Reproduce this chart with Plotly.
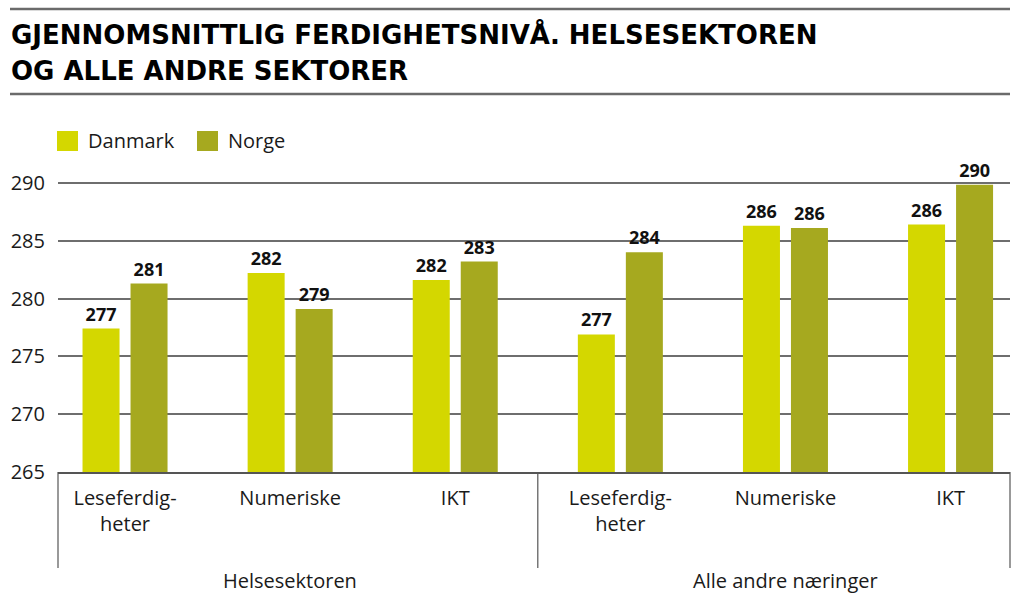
import plotly.graph_objects as go

# ---------------- data ----------------
sectors = ["Helsesektoren", "Alle andre næringer"]
skills = ["Leseferdig-<br>heter", "Numeriske", "IKT"]
danmark = [277.4, 282.2, 281.6, 276.9, 286.3, 286.4]
norge = [281.3, 279.1, 283.2, 284.0, 286.1, 289.85]
series_names = ["Danmark", "Norge"]
colors = ["#d4d700", "#a6a91f"]
y_ticks = [265, 270, 275, 280, 285, 290]

title_lines = ["GJENNOMSNITTLIG FERDIGHETSNIVÅ. HELSESEKTOREN", "OG ALLE ANDRE SEKTORER"]

# ---------------- layout geometry (pixels) ----------------
WIDTH, HEIGHT = 1024, 601
L, R = 58, 1010
T, B = 154, 472
PW, PH = R - L, B - T

def px(xp):
    return (xp - L) / PW

def py(yp):
    return (B - yp) / PH

FONT = "Open Sans"
TITLE_FONT = "DejaVu Sans"
TXT = "#1a1a1a"
GRID = "#6e6e6e"

n_skills = len(skills)
xpos = list(range(len(sectors) * n_skills))
ticktext = skills * len(sectors)

fig = go.Figure()
for name, vals, col in zip(series_names, [danmark, norge], colors):
    fig.add_trace(go.Bar(
        x=xpos, y=vals, name=name, marker=dict(color=col, line=dict(width=0)),
        texttemplate="%{y:.0f}", textposition="outside",
        textfont=dict(family=FONT, size=18, color="#111111", weight="bold"),
        showlegend=False, hoverinfo="skip",
    ))

shapes = []
annotations = []

# top rule and rule under title
for yp in (9, 94):
    shapes.append(dict(type="line", xref="paper", yref="paper",
                       x0=px(10), x1=px(1010), y0=py(yp), y1=py(yp),
                       line=dict(color="#6b6b6b", width=2.5)))

# title
for i, line in enumerate(title_lines):
    annotations.append(dict(text=line, xref="paper", yref="paper",
                            x=px(9), y=py(34 + 37.5 * i), xanchor="left", yanchor="middle",
                            showarrow=False,
                            font=dict(family=TITLE_FONT, size=26, color="#000000", weight="bold")))

# custom legend
leg_x = [57, 197]
for name, col, lx in zip(series_names, colors, leg_x):
    shapes.append(dict(type="rect", xref="paper", yref="paper",
                       x0=px(lx), x1=px(lx + 21), y0=py(151), y1=py(131),
                       fillcolor=col, line=dict(width=0)))
    annotations.append(dict(text=name, xref="paper", yref="paper",
                            x=px(lx + 29), y=py(141), xanchor="left", yanchor="middle",
                            showarrow=False, font=dict(family=FONT, size=20, color=TXT)))

# group separators and group labels
sep_bottom = py(568)
shapes.append(dict(type="line", xref="paper", yref="paper", x0=0, x1=0, y0=0, y1=sep_bottom,
                   line=dict(color="#555555", width=1.2)))
shapes.append(dict(type="line", xref="paper", yref="paper", x0=1, x1=1, y0=0, y1=sep_bottom,
                   line=dict(color="#555555", width=1.2)))
for g in range(1, len(sectors)):
    xs = g * n_skills - 0.5
    shapes.append(dict(type="line", xref="x", yref="paper", x0=xs, x1=xs, y0=0, y1=sep_bottom,
                       line=dict(color="#555555", width=1.2)))
for g, sec in enumerate(sectors):
    annotations.append(dict(text=sec, xref="x", yref="paper",
                            x=g * n_skills + (n_skills - 1) / 2, y=py(580),
                            xanchor="center", yanchor="middle", showarrow=False,
                            font=dict(family=FONT, size=20, color=TXT)))

fig.update_layout(
    width=WIDTH, height=HEIGHT,
    margin=dict(l=L, r=WIDTH - R, t=T, b=HEIGHT - B, pad=0),
    paper_bgcolor="white", plot_bgcolor="white",
    barmode="group", bargap=0.4185, bargroupgap=0.229,
    font=dict(family=FONT, color=TXT),
    shapes=shapes, annotations=annotations,
    hovermode=False,
    xaxis=dict(
        tickmode="array", tickvals=xpos, ticktext=ticktext,
        range=[-0.406, 5.36], showgrid=False, zeroline=False,
        showline=True, linecolor="#555555", linewidth=1.5,
        ticks="", ticklabelstandoff=7,
        tickfont=dict(family=FONT, size=20, color=TXT),
    ),
    yaxis=dict(
        range=[265, 292.5], tickvals=y_ticks, showgrid=True,
        gridcolor=GRID, gridwidth=2, zeroline=False, showline=False,
        ticks="", ticklabelstandoff=12,
        tickfont=dict(family=FONT, size=20, color=TXT),
    ),
)

fig.write_html("out.html", config={"displayModeBar": False},
               post_script="document.body.style.margin='0';")
